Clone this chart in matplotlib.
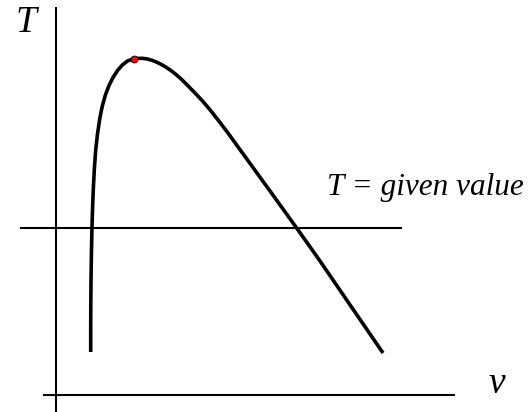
import matplotlib
matplotlib.use("Agg")
from matplotlib import pyplot as plt

# isobar-like curve: T against v, rising branch then falling branch
v = [34.7, 34.7, 34.8, 35.0, 35.4, 35.9, 36.6, 37.4, 38.4, 39.7, 41.5, 43.7,
     46.3, 49.4, 53.0, 57.0, 61.5, 66.5, 71.5, 76.5,
     81, 86, 91, 96, 101, 106, 111, 116, 121, 126, 131, 139, 147, 155, 164,
     172, 181, 189, 197, 206, 214, 223, 232, 241, 252, 264, 277, 290, 302,
     314, 327]
T = [43, 65, 90, 115, 140, 165, 188, 208, 227, 245, 261, 276,
     289, 300, 309.5, 317.5, 324.5, 330.2, 334, 335.8,
     336.6, 336.7, 336.1, 334.7, 332.7, 330.2, 327.2, 323.7, 319.7, 315.2,
     310.2, 302, 293.5, 284, 272.5, 262, 249.5, 238.5, 227.5, 215, 204,
     191.5, 179, 166.5, 151, 134, 115, 96, 78.5, 61, 42]
v_max = 78.3
T_max = 336

# horizontal line T = given value
T_given = 167
v_given = [-36, 346]

# hand drawn axes
v_axis = [-13, 399]
T_axis = [-17, 388]

fig = plt.figure(figsize=(5.31, 4.12), dpi=100)
ax = fig.add_axes([0, 0, 1, 1])
ax.set_xlim(-56, 475)
ax.set_ylim(-17, 395)
ax.axis("off")

ax.plot([0, 0], T_axis, color="black", lw=1.5, solid_capstyle="butt")
ax.plot(v_axis, [0, 0], color="black", lw=1.5, solid_capstyle="butt")
ax.plot(v_given, [T_given, T_given], color="black", lw=1.5, solid_capstyle="butt")

ax.plot(v, T, color="black", lw=2.6, solid_capstyle="butt", solid_joinstyle="round")
ax.plot([v_max], [T_max], "o", color="red", markeredgecolor="black",
        markeredgewidth=0.6, markersize=5, zorder=5)

font = dict(family="Liberation Serif", style="italic")
ax.text(-40, 363, "T", fontsize=27, ha="left", va="baseline", **font)
ax.text(432, 2, "v", fontsize=27, ha="left", va="baseline", **font)
ax.text(271, 200, "T = given value", fontsize=22.5, ha="left", va="baseline", **font)

fig.savefig("out.png", dpi=100)
